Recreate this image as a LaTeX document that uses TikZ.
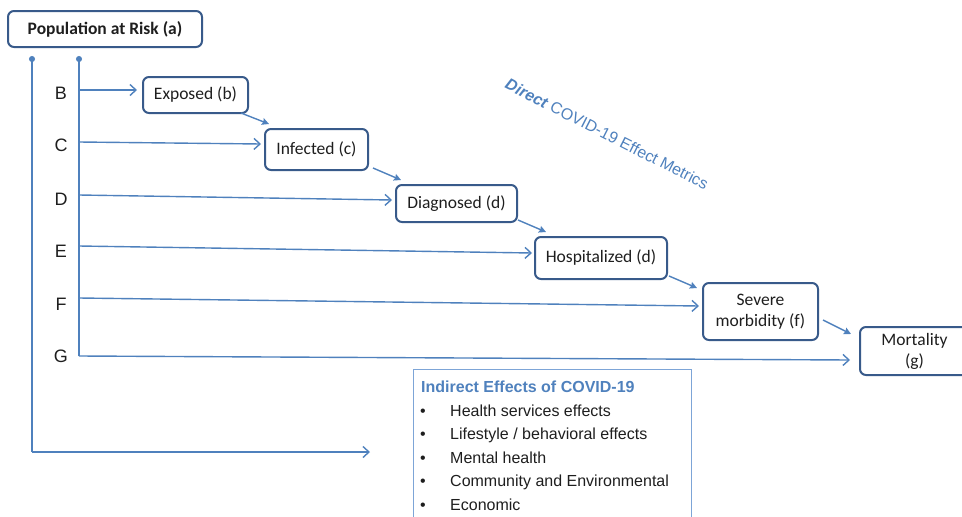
\documentclass[tikz,border=0pt]{standalone}
\usepackage{fontspec}
\setmainfont{Carlito}
\newfontfamily\arialf{Liberation Sans}
\usetikzlibrary{arrows.meta,calc}
\definecolor{lineblue}{RGB}{79,129,189}
\definecolor{boxblue}{RGB}{56,90,138}
\definecolor{txtdark}{RGB}{30,30,30}
\definecolor{lightblue}{RGB}{125,165,215}
\tikzset{
  stagebox/.style={draw=boxblue, line width=2pt, rounded corners=6pt, fill=white,
    text=txtdark, align=center, inner sep=0pt,
    font=\fontsize{17.5}{21}\selectfont},
  harrow/.style={draw=lineblue, line width=1.4pt, -{Straight Barb[length=6pt,width=11pt,line width=1.4pt]}},
  darrow/.style={draw=lineblue, line width=1.4pt, -{Stealth[length=7pt,width=7pt,inset=1pt]}},
  trunk/.style={draw=lineblue, line width=1.4pt, {Circle[length=6pt]}-},
  letter/.style={font=\arialf\fontsize{18}{20}\selectfont, text=txtdark, inner sep=0pt},
  itemtxt/.style={font=\arialf\fontsize{16}{19}\selectfont, text=txtdark, inner sep=0pt, anchor=base west},
}
\begin{document}
\begin{tikzpicture}[x=1pt,y=-1pt]
\useasboundingbox (0,0) rectangle (962,517);
\clip (0,0) rectangle (962,517);

% boxes
\node[stagebox, minimum width=194pt, minimum height=36pt, font=\bfseries\fontsize{17.5}{21}\selectfont] (pa) at (105,29) {Population at Risk (a)};
\node[stagebox, minimum width=105pt, minimum height=36pt] (ex) at (195.5,95) {Exposed (b)};
\node[stagebox, minimum width=103pt, minimum height=41pt] (in) at (316.5,149.5) {Infected (c)};
\node[stagebox, minimum width=121pt, minimum height=37pt] (dg) at (456.5,203.5) {Diagnosed (d)};
\node[stagebox, minimum width=132pt, minimum height=42pt] (hs) at (601,258) {Hospitalized (d)};
\node[stagebox, minimum width=115pt, minimum height=57pt] (sv) at (760.5,311.5) {Severe\\morbidity (f)};
\node[stagebox, minimum width=109pt, minimum height=48pt] (mt) at (914.5,351) {Mortality\\(g)};

% trunks
\coordinate (l1top) at (32,56);
\coordinate (l1bot) at (32,452);
\coordinate (l1end) at (370,452);
\coordinate (l2top) at (79,56);
\coordinate (l2bot) at (79,356);
\draw[trunk] (l1top) -- (l1bot);
\draw[harrow] (l1bot) -- (l1end);
\draw[trunk] (l2top) -- (l2bot);

% row starts
\coordinate (rB) at (79,90);
\coordinate (rC) at (79,142);
\coordinate (rD) at (79,195);
\coordinate (rE) at (79,246);
\coordinate (rF) at (79,298);
\coordinate (rG) at (79,356);

% letters
\node[letter] (lB) at (61,93) {B};
\node[letter] (lC) at (61,145) {C};
\node[letter] (lD) at (61,199.5) {D};
\node[letter] (lE) at (61,251) {E};
\node[letter] (lF) at (61,304) {F};
\node[letter] (lG) at (61,356) {G};

% horizontal arrows
\draw[harrow] (rB) -- ($(ex.west)+(-5,-5)$);
\draw[harrow] (rC) -- ($(in.west)+(-3,-5.5)$);
\draw[harrow] (rD) -- ($(dg.west)+(-3,-3.5)$);
\draw[harrow] (rE) -- ($(hs.west)+(-2,-5)$);
\draw[harrow] (rF) -- ($(sv.west)+(-3,-5.5)$);
\draw[harrow] (rG) -- ($(mt.west)+(-9,9)$);

% diagonal arrows
\draw[darrow] ($(ex.south east)+(-8,-1)$) -- ($(in.north west)+(5,-4)$);
\draw[darrow] ($(in.south east)+(4,-3)$) -- ($(dg.north west)+(6,-4)$);
\draw[darrow] ($(dg.south east)+(0,-3)$) -- ($(hs.north west)+(12,-4)$);
\draw[darrow] ($(hs.south east)+(1,-4)$) -- ($(sv.north west)+(-5,6)$);
\draw[darrow] ($(sv.east)+(4,8.5)$) -- ($(mt.north west)+(-8,8)$);

% direct label
\node[rotate=-27, text=lineblue, font=\arialf\fontsize{16}{19}\selectfont, inner sep=0pt] (dl) at (607,134) {\textbf{\textit{Direct}} COVID-19 Effect Metrics};

% indirect box
\draw[draw=lightblue, line width=1pt] (413,540) -- (413,369) -- (691,369) -- (691,540);
\node[itemtxt, text=lineblue, font=\arialf\bfseries\fontsize{16}{19}\selectfont] (it) at (421,392) {Indirect Effects of COVID-19};
\foreach \t [count=\i] in {Health services effects, Lifestyle / behavioral effects, Mental health, Community and Environmental, Economic} {
  \node[itemtxt] (b\i) at (420,{416+23.5*(\i-1)}) {•};
  \node[itemtxt] (i\i) at (450,{416+23.5*(\i-1)}) {\t};
}
\end{tikzpicture}
\end{document}
